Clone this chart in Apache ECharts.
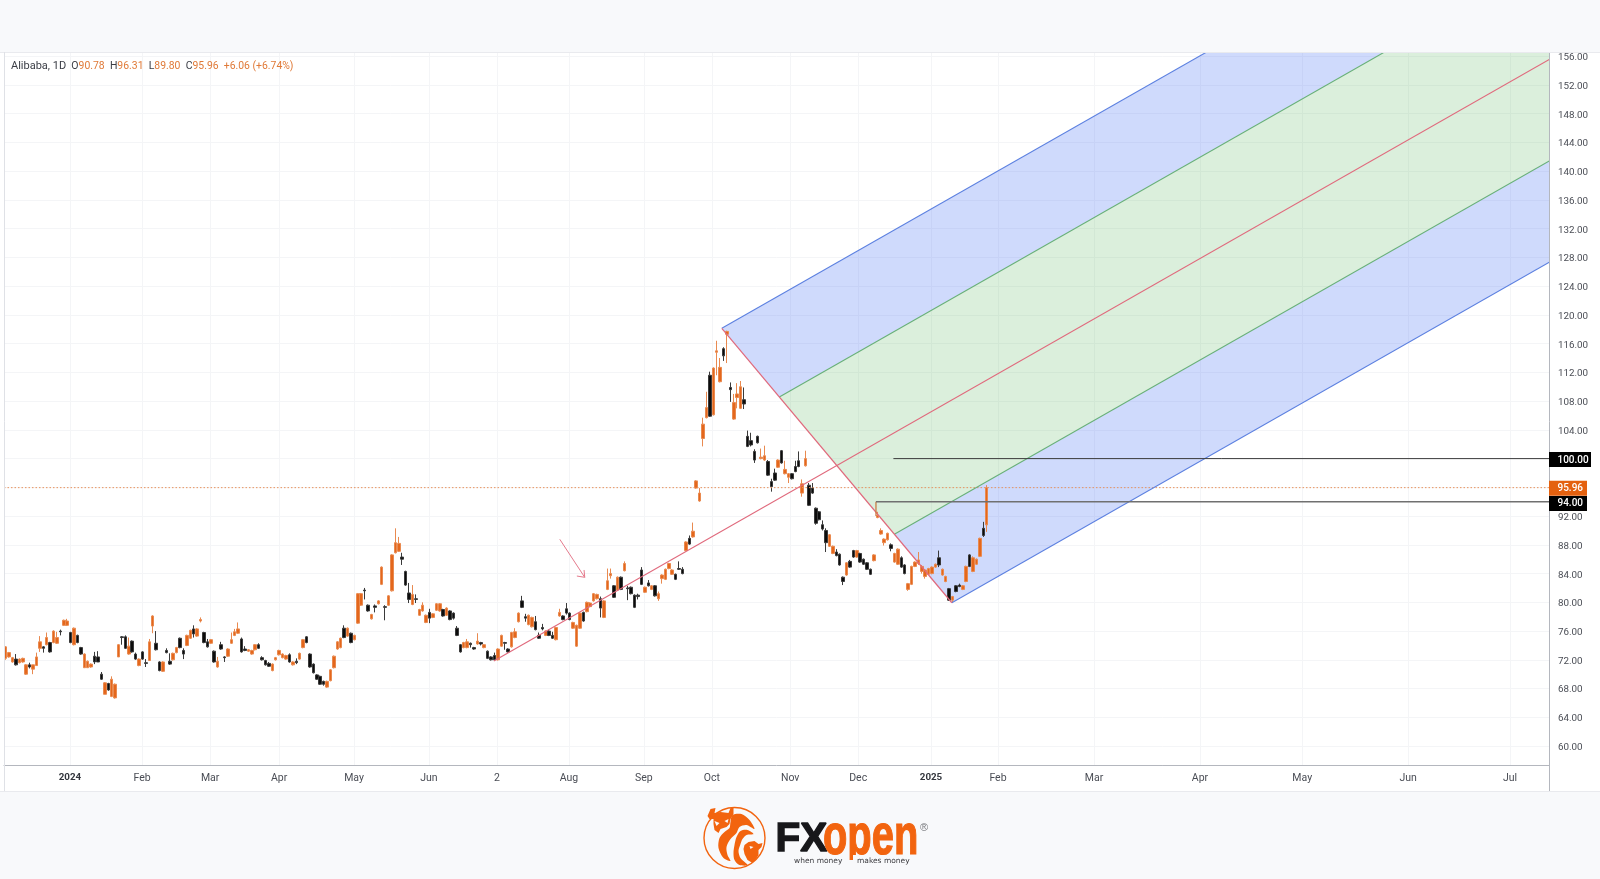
<!DOCTYPE html>
<html><head><meta charset="utf-8">
<style>html,body{margin:0;padding:0;background:#fff}#c{width:1600px;height:879px}</style>
<script src="https://cdn.jsdelivr.net/npm/echarts@6/dist/echarts.min.js"></script>
</head><body><div id="c"></div>
<script>
// each candle: [open, close, low, high]
const candlesA = [
[72.2,73.8,72.0,73.9],[72.4,73.0,72.3,73.1],[71.7,72.3,71.6,72.4],[72.1,71.3,71.2,72.8],[71.6,72.1,71.5,72.2],[71.7,72.2,71.6,72.3],[70.0,71.3,69.9,71.4],[71.3,71.0,70.8,71.6],[70.7,71.3,70.0,71.3],[71.2,72.4,71.2,73.0],
[73.6,74.5,73.1,75.3],[73.8,73.6,73.0,73.9],[74.1,75.1,74.0,75.8],[74.4,73.1,73.0,74.5],[74.4,76.0,74.3,76.1],[74.3,75.1,74.2,75.9],[76.0,75.9,75.4,76.2],[76.8,77.5,76.7,77.6],[76.8,77.4,76.7,77.7],[75.8,74.4,74.3,75.9],
[74.1,76.4,74.0,76.5],[75.4,74.4,74.3,75.5],[73.7,72.8,72.7,73.8],[70.9,72.8,70.9,72.9],[70.9,71.8,70.9,71.9],[71.0,71.4,70.9,71.5],[72.5,71.7,71.4,73.1],[72.4,71.7,71.7,73.2],[70.0,69.3,69.2,70.3],[67.2,68.8,67.2,68.9],
[68.7,67.8,67.7,68.8],[66.9,69.3,66.8,69.7],[66.7,68.6,66.6,68.7],[72.4,74.1,72.4,74.2],[75.2,75.1,74.1,75.3],[75.2,73.6,73.5,75.4],[72.8,73.9,72.7,75.1],[74.6,73.1,73.0,74.7],[72.8,72.1,72.0,73.0],[71.2,72.1,71.1,72.2],
[73.1,72.1,72.0,73.2],[71.6,71.5,71.0,72.1],[71.9,74.5,71.9,74.9],[76.7,78.1,75.7,78.2],[74.3,73.4,73.3,76.0],[71.7,70.5,70.4,71.8],[70.4,71.7,70.3,71.8],[73.3,73.0,72.9,73.6],[71.8,71.4,71.3,72.9],[72.0,72.9,71.9,73.0],
[73.0,73.7,72.9,73.8],[75.0,73.7,73.6,75.1],[73.3,72.8,72.1,73.6],[74.0,75.4,73.9,75.5],[75.0,76.1,74.9,76.2],[76.3,75.6,75.1,76.8],[75.3,76.3,75.2,76.4],[77.4,77.6,77.2,77.9],[75.8,74.4,74.3,75.9],[74.5,73.8,73.7,74.9],
[74.3,74.8,74.2,74.9],[73.2,71.7,71.6,73.3],[71.0,71.8,70.9,72.4],[74.1,73.5,73.4,74.5],[72.4,72.3,71.7,72.5],[72.5,73.5,72.4,73.6],[74.3,74.8,74.2,75.8],[75.4,75.9,75.3,76.3],[75.7,76.3,75.6,77.2],[74.9,73.1,73.0,75.1],
[73.5,73.3,73.2,73.9],[73.2,73.4,73.1,73.5],[72.8,73.3,72.7,73.4],[73.4,74.1,73.3,74.2],[74.1,73.6,73.5,74.3],[72.3,72.0,71.9,72.5],[71.9,71.3,71.2,72.0],[71.5,71.1,71.0,71.7],[70.5,71.4,70.4,71.5],[72.0,72.3,71.9,72.4],
[72.7,73.3,72.6,73.4],[72.3,72.8,72.2,72.9],[72.1,72.6,72.0,72.7],[72.7,71.7,71.6,72.9],[71.3,71.7,71.2,71.8],[71.8,71.6,71.4,72.2],[72.1,72.9,72.0,73.0],[73.7,74.8,73.6,74.9],[75.2,74.4,74.3,75.3],[72.8,71.0,70.9,72.9],
[71.4,70.2,70.1,71.5],[69.9,69.3,69.2,70.0],[69.7,68.6,68.5,69.8],[69.0,68.6,68.4,69.1],[68.2,69.0,68.1,69.1],[69.1,70.6,69.0,70.7],[70.9,72.5,70.8,72.6],[73.5,74.5,73.4,74.6],[73.7,75.0,73.6,75.1],[76.4,75.1,75.0,76.8]
];
const candlesB = [
[75.3,76.4,75.2,76.5],[75.7,74.4,74.3,75.8],[74.8,75.4,74.7,75.5],[77.1,81.2,77.0,81.3],[79.6,81.2,79.5,81.3],[81.7,81.6,80.4,82.0],[79.6,78.8,78.7,79.7],[77.7,78.3,77.6,78.4],[79.5,79.3,78.6,79.7],[79.8,80.2,79.7,80.3],
[82.5,84.9,82.4,85.0],[79.4,79.3,77.5,79.6],[79.6,80.9,79.5,81.0],[81.6,86.6,81.5,86.7],[86.9,88.3,86.8,90.3],[87.1,88.2,87.0,89.1],[86.3,86.0,85.2,86.9],[84.3,82.4,82.3,84.4],[81.3,80.4,79.9,82.7],[79.7,81.1,79.6,82.4],
[80.5,80.4,79.9,81.1],[78.2,79.0,78.1,79.1],[78.8,79.6,78.7,80.0],[77.2,78.2,77.1,78.3],[78.6,77.8,77.1,79.1],[77.9,78.4,77.8,78.5],[78.9,79.8,78.8,79.9],[78.8,79.8,78.7,79.9],[79.0,78.1,78.0,79.1],[78.2,79.2,78.1,79.3],
[78.8,77.6,77.5,78.9],[78.5,77.8,77.6,78.6],[76.4,75.4,75.3,76.7],[74.1,73.1,73.0,74.2],[73.7,74.4,73.6,74.5],[73.7,74.5,73.6,74.9],[74.3,74.1,73.7,74.4],[73.7,73.5,73.4,73.8],[74.2,74.6,74.1,75.7],[74.4,74.2,74.0,74.5],
[73.7,74.1,73.6,74.2],[73.2,72.2,72.1,73.3],[72.4,72.0,71.9,72.5],[72.6,72.0,71.9,73.0],[72.0,73.5,71.9,73.6],[73.9,75.4,73.8,75.5],[74.4,74.3,73.4,74.5],[73.5,73.1,73.0,73.6],[73.8,75.8,73.7,75.9],[75.1,75.9,75.0,76.4],
[77.3,78.5,77.2,78.6],[80.2,79.3,79.2,80.9],[78.0,77.8,77.3,78.4],[76.9,78.2,76.8,78.3],[76.6,77.9,76.5,78.0],[77.3,76.2,76.1,78.1],[75.4,75.0,74.9,75.8],[76.5,76.3,76.1,77.0],[75.4,76.0,75.3,76.1],[76.0,75.4,75.3,76.2],
[75.4,75.0,74.9,75.9],[74.8,76.5,74.7,76.6],[78.1,78.6,78.0,79.1],[78.1,77.6,77.5,78.2],[79.1,78.5,78.3,79.9],[78.5,77.6,77.5,78.6],[76.4,77.2,76.3,77.3],[73.9,76.8,73.8,76.9],[76.4,78.5,76.3,78.6],[78.6,77.4,77.3,78.7],
[78.7,80.0,78.6,80.1],[79.4,79.9,79.3,80.0],[80.2,81.2,80.1,81.3],[80.5,81.1,80.4,81.2],[80.5,79.2,77.9,80.8],[77.9,80.2,77.8,80.3],[81.8,83.0,81.7,84.7],[83.7,84.0,83.3,84.7],[82.3,80.7,80.6,82.4],[81.7,83.5,81.6,83.6],
[83.5,81.8,81.7,83.6],[84.4,85.4,84.3,85.7],[82.0,81.9,80.3,82.3],[82.1,81.2,81.1,82.2],[81.0,79.3,79.2,81.1],[81.0,80.8,80.4,81.2],[84.5,82.5,82.4,84.9],[81.4,82.1,81.3,82.2],[82.7,82.3,82.2,83.1],[81.8,82.3,81.7,82.4],
[82.3,80.9,80.8,82.4],[80.5,81.2,80.2,81.5],[83.3,83.8,82.6,83.9],[83.2,84.6,83.1,84.7],[84.7,85.4,84.6,85.5],[83.9,84.5,83.8,84.6],[83.9,83.2,83.1,84.0],[84.7,84.6,84.5,85.7],[84.6,84.0,83.9,84.9],[87.2,88.4,87.1,88.5],[88.9,88.1,88.0,89.3]
];
const candlesC = [
[89.1,89.9,89.0,91.1],[95.9,96.9,95.8,97.0],[94.1,95.2,94.0,95.9],[102.8,104.8,101.7,105.7],[105.7,107.1,105.6,109.3],[111.6,105.9,105.8,112.1],[106.1,112.6,106.0,112.7],[114.8,115.0,111.6,116.4],[110.7,112.7,110.6,114.0],[115.3,114.3,113.6,115.5],
[117.3,117.7,113.3,117.8],[109.9,109.6,107.9,110.6],[105.5,107.8,105.4,109.0],[108.5,109.0,107.0,110.5],[107.0,110.0,106.9,110.8],[108.2,107.6,106.9,109.9],[103.1,101.7,101.6,103.9],[102.5,101.9,101.7,103.6],[101.0,99.8,99.4,101.3],[103.1,102.2,102.1,103.2],
[100.0,100.2,99.9,101.4],[99.8,100.4,99.7,101.8],[99.6,97.7,97.6,99.8],[96.8,96.1,95.4,97.2],[98.0,97.0,96.9,98.6],[98.8,99.8,98.7,99.9],[101.1,99.4,99.3,101.2],[97.9,98.5,97.8,99.7],[97.4,97.9,96.6,98.0],[97.9,97.2,97.1,98.0],
[98.9,98.2,98.1,99.7],[99.7,98.9,98.8,101.0],[95.2,96.5,94.7,97.1],[99.0,100.0,98.9,101.1],[96.3,93.5,93.4,96.6],[95.9,95.2,95.1,96.6],[93.1,91.0,90.8,93.2],[92.6,91.5,91.4,92.7],[90.8,90.2,90.0,91.4],[90.0,88.3,87.0,90.3],
[87.8,89.4,87.7,89.5],[86.8,87.8,86.7,87.9],[87.0,86.5,86.4,87.4],[86.7,85.2,85.1,86.8],[83.5,82.9,82.4,83.6],[83.8,85.5,83.7,85.6],[85.7,84.9,84.8,85.9],[87.2,86.3,86.2,87.3],[86.3,87.2,86.2,87.3],[86.8,85.6,85.5,86.9],
[86.0,85.3,85.2,86.1],[85.5,84.6,84.5,85.6],[84.6,83.9,83.8,84.7],[85.8,86.6,85.7,86.7],[91.8,92.1,91.7,92.6],[89.5,90.0,89.4,90.3],[88.3,88.8,87.9,88.9],[88.7,89.6,88.6,89.7],[88.0,87.5,87.1,88.2],[85.6,86.8,85.5,86.9],
[85.3,87.4,85.2,87.5],[86.2,84.9,84.8,86.4],[85.2,84.0,83.9,85.3],[81.8,82.6,81.6,82.7],[82.5,85.0,82.4,85.1],[85.0,85.6,84.9,85.7],[85.4,85.9,85.2,87.0],[84.3,85.0,84.0,85.2],[83.6,84.5,83.3,84.6],[83.9,84.7,83.8,84.8],
[84.0,84.9,83.9,85.0],[84.9,85.3,84.8,85.4],[86.2,85.2,84.9,87.2],[83.8,84.6,83.7,84.7],[82.9,83.6,82.8,83.7],[81.9,80.3,80.2,82.0],[80.3,80.8,80.0,80.9],[82.3,81.5,81.4,82.4],[82.4,82.2,82.1,82.6],[81.8,82.3,81.7,82.4],
[82.9,85.0,82.8,85.1],[86.6,85.0,84.9,86.7],[84.3,86.2,84.2,86.4],[85.3,86.0,85.2,86.1],[86.4,88.9,86.3,89.0],[90.3,89.3,89.1,91.2],[90.78,95.96,89.80,96.31]
];
const candles = candlesA.concat(candlesB, candlesC);

const barSlots = 452;                        // trading days + future slots on the time scale
const categories = Array.from({length: barSlots}, (_, i) => String(i));
const monthSlots = [18.8,39.9,59.8,80,101.9,123.8,143.7,164.8,186.7,206.6,229.5,249.4,270.7,290.3,318.4,349.4,379.3,410.3,440.1];
const monthLabels = ['2024','Feb','Mar','Apr','May','Jun','2','Aug','Sep','Oct','Nov','Dec','2025','Feb','Mar','Apr','May','Jun','Jul'];
const priceTicks = [60,64,68,72,76,80,84,88,92,96,100,104,108,112,116,120,124,128,132,136,140,144,148,152,156];
const shownPriceTicks = priceTicks.filter(v => v !== 96 && v !== 100);

// pitchfork anchors: [slot, price]
const forkStart = [142.8, 71.83];
const forkHigh  = [209.5, 118.13];
const forkLow   = [276.8, 79.94];
// level lines
const level100 = [[259.7, 100], [451.5, 100]];
const level94  = [[254.6, 92], [254.6, 94], [451.5, 94]];
const lastPriceLine = [[-0.5, 95.96], [451.5, 95.96]];
const lastPrice = 95.96;
const arrowShaft = [[162.1, 88.77], [169.4, 83.48]];
const arrowHead  = [[167.1, 83.66], [169.4, 83.48], [169.2, 84.5]];

const ORANGE = '#e4671c', BLACK = '#0c0c0c';
const forkMid = [(forkHigh[0]+forkLow[0])/2, (forkHigh[1]+forkLow[1])/2];
const dir = [forkMid[0]-forkStart[0], forkMid[1]-forkStart[1]];
const far = p => [p[0]+dir[0]*4, p[1]+dir[1]*4];
const along = t => [forkHigh[0]+(forkLow[0]-forkHigh[0])*t, forkHigh[1]+(forkLow[1]-forkHigh[1])*t];
const g1 = along(0.25), g2 = along(0.75);

function overlay(z, clip, build) {
  return {type:'custom', xAxisIndex:1, yAxisIndex:0, z, clip, silent:true, data:[0], animation:false,
    renderItem:(params, api) => ({type:'group', children: build(p => api.coord(p))})};
}
const poly = (c, pts, fill) => ({type:'polygon', shape:{points:pts.map(c)}, style:{fill, stroke:null}});
const pline = (c, pts, stroke, lineWidth, lineDash) => ({type:'polyline', shape:{points:pts.map(c)}, style:{fill:null, stroke, lineWidth, lineDash}});

const BLUE_LINE='#5c80e0', GREEN_LINE='#68b078', RED_LINE='#e0697c';
const tags = [
  {price:100, text:'100.00', bg:'#000', w:42, dy:0.9},
  {price:lastPrice, text:'95.96', bg:'#e4610f', w:38, dy:0.7},
  {price:94, text:'94.00', bg:'#000', w:38, dy:1.7}
];
const LOGO='#f2640f', BAND='#f8f9fb';
const logoPoly = (pts, fill, smooth) => ({type:'polygon', silent:true, shape:{points:pts, smooth:smooth||0}, style:{fill:fill||LOGO}});

const chart = echarts.init(document.getElementById('c'), null, {renderer:'canvas'});
const seg = (k, t) => `{${k}|${t}}`;
chart.setOption({
  animation:false,
  backgroundColor:'#ffffff',
  title:{
    left:11, top:61, padding:0,
    text:seg('n','Alibaba, 1D')+seg('s','  ')+seg('d','O')+seg('o','90.78')+seg('s','  ')+seg('d','H')+seg('o','96.31')+seg('s','  ')+seg('d','L')+seg('o','89.80')+seg('s','  ')+seg('d','C')+seg('o','95.96')+seg('s','  ')+seg('o','+6.06 (+6.74%)'),
    textStyle:{fontWeight:'normal', rich:{
      n:{fontFamily:'Roboto',fontSize:11,fontWeight:'normal',color:'#3a3d45'},
      d:{fontFamily:'Roboto',fontSize:10.5,fontWeight:'normal',color:'#3a3d45'},
      o:{fontFamily:'Roboto',fontSize:10.4,fontWeight:'normal',color:'#e07a38'},
      s:{fontFamily:'Roboto',fontSize:10.5,fontWeight:'normal'}
    }}
  },
  grid:{left:4, top:53, width:1545, height:712, containLabel:false},
  xAxis:[
    {type:'category', data:categories, show:false, boundaryGap:true},
    {type:'value', min:-0.5, max:451.5, position:'bottom',
     axisLine:{show:true, onZero:false, lineStyle:{color:'#b4b7be', width:1}},
     axisTick:{show:false, customValues:monthSlots},
     splitLine:{show:true, lineStyle:{color:'#f4f5f7', width:1}},
     axisLabel:{customValues:monthSlots, margin:8, fontFamily:'Roboto', fontSize:10.5, color:'#4a4d55',
       formatter:v => { const l = monthLabels[monthSlots.indexOf(v)]; return l.length>1 && l[0]==='2' ? `{b|${l}}` : l; },
       rich:{b:{fontFamily:'Roboto',fontSize:9.8,fontWeight:'bold',color:'#33363d'}}}}
  ],
  yAxis:{type:'value', position:'right', min:57.36, max:156.45, scale:true,
    axisLine:{show:false}, 
    axisTick:{show:false, customValues:priceTicks},
    splitLine:{show:true, lineStyle:{color:'#f4f5f7', width:1}},
    axisLabel:{customValues:shownPriceTicks, margin:9, fontFamily:'Roboto', fontSize:9.8, color:'#4a4d55', verticalAlign:'top', lineHeight:3, formatter:v => v.toFixed(2)}
  },
  series:[
    overlay(1, true, c => [
      poly(c,[forkHigh,g1,far(g1),far(forkHigh)],'rgba(62,108,245,0.25)'),
      poly(c,[g1,g2,far(g2),far(g1)],'rgba(76,175,80,0.2)'),
      poly(c,[g2,forkLow,far(forkLow),far(g2)],'rgba(62,108,245,0.25)')
    ]),
    {type:'candlestick', xAxisIndex:0, yAxisIndex:0, z:2, barWidth:3, data:candles,
     itemStyle:{color:ORANGE, color0:BLACK, borderColor:'#e98a50', borderColor0:'#3a3a3a', borderWidth:1}},
    overlay(3, true, c => [
      pline(c,lastPriceLine,'#e8935f',1,[1.5,2]),
      pline(c,[forkHigh,far(forkHigh)],BLUE_LINE,1.1),
      pline(c,[forkLow,far(forkLow)],BLUE_LINE,1.1),
      pline(c,[g1,far(g1)],GREEN_LINE,1.1),
      pline(c,[g2,far(g2)],GREEN_LINE,1.1),
      pline(c,[forkStart,far(forkStart)],RED_LINE,1.1),
      pline(c,[forkHigh,forkLow],RED_LINE,1.2),
      pline(c,level100,'#3a3a3a',1),
      pline(c,[level94[0],level94[1]],'#c8763a',1.2),
      pline(c,[level94[1],level94[2]],'#707070',1.3),
      pline(c,arrowShaft,'#e57a8c',1),
      pline(c,arrowHead,'#e57a8c',1)
    ]),
    overlay(5, false, c => tags.flatMap(t => {
      const p = c([451.5, t.price]);
      return [
        {type:'rect', shape:{x:p[0], y:p[1]+t.dy-7.5, width:t.w, height:15}, style:{fill:t.bg}},
        {type:'text', style:{x:p[0]+8.5, y:p[1]+t.dy+0.5, text:t.text, fill:'#fff', font:'500 10px Roboto', verticalAlign:'middle', align:'left'}}
      ];
    }))
  ],
  graphic:[
    {type:'rect', z:-1, silent:true, shape:{x:0,y:0,width:1600,height:52}, style:{fill:BAND}},
    {type:'rect', z:-1, silent:true, shape:{x:0,y:792,width:1600,height:87}, style:{fill:BAND}},
    {type:'line', z:6, silent:true, shape:{x1:0,y1:52.5,x2:1600,y2:52.5}, style:{stroke:'#e9eaee',lineWidth:1}},
    {type:'line', z:6, silent:true, shape:{x1:0,y1:791.5,x2:1600,y2:791.5}, style:{stroke:'#e9eaee',lineWidth:1}},
    {type:'line', z:6, silent:true, shape:{x1:4.5,y1:52,x2:4.5,y2:791}, style:{stroke:'#dfe1e6',lineWidth:1}},
    {type:'line', z:4, silent:true, shape:{x1:1549.5,y1:52,x2:1549.5,y2:791}, style:{stroke:'#b4b7be',lineWidth:1}},
    // logo
    {type:'circle', z:7, silent:true, shape:{cx:734.5,cy:838,r:30.5}, style:{fill:null,stroke:LOGO,lineWidth:1.4}},
    {type:'group', z:7, silent:true, x:734.5, y:838, children:[
      logoPoly([[-27,-22],[-24,-29],[-19,-30],[-20,-25],[-14,-26],[-6,-25],[-4,-30],[-1,-31],[-1,-24],[-4,-19],[-5,-14],[-8,-11],[-14,-9],[-16,-5],[-20,-8],[-21,-14],[-21,-19],[-25,-19]]),
      logoPoly([[-2,-23],[7,-24],[15,-18],[20,-9],[12,-13],[5,-11],[2,-5],[-4,1],[-8,9],[-7,17],[-4,23],[-11,20],[-16,10],[-15,0],[-10,-6],[-5,-10],[-4,-16]],LOGO,0.3),
      logoPoly([[2,-1],[6,-7],[13,-8],[19,-4],[12,-3],[8,1],[6,6],[4,13],[6,20],[13,27],[5,27],[0,22],[-1,15],[0,7]],LOGO,0.3),
      logoPoly([[10,7],[14,4],[20,3],[24,6],[28,5],[27,9],[24,12],[24,17],[21,22],[18,25],[13,22],[10,16],[9,11]]),
      logoPoly([[-20,-17],[-15,-15],[-18,-12]],BAND),
      logoPoly([[-10,-17],[-6,-19],[-7,-15]],BAND),
      logoPoly([[15,8],[19,9],[16,11]],BAND)
    ]},
    {type:'text', z:7, silent:true, x:775.5, y:840, style:{text:'FX', font:'900 40.5px "Liberation Sans"', fill:'#17171a', stroke:'#17171a', lineWidth:1.4, verticalAlign:'middle', align:'left'}},
    {type:'text', z:7, silent:true, x:823, y:838, scaleX:0.7, style:{text:'open', font:'700 57px "Liberation Sans"', fill:LOGO, stroke:LOGO, lineWidth:1.2, verticalAlign:'middle', align:'left'}},
    {type:'rect', z:8, silent:true, shape:{x:835,y:860,width:30,height:14}, style:{fill:BAND}},
    {type:'rect', z:8, silent:true, shape:{x:790,y:855,width:48,height:14}, style:{fill:BAND}},
    {type:'rect', z:8, silent:true, shape:{x:853,y:855,width:70,height:14}, style:{fill:BAND}},
    {type:'text', z:9, silent:true, x:794, y:861, style:{text:'when money', font:'7.5px "DejaVu Sans"', fill:'#3c3c40', verticalAlign:'middle', align:'left'}},
    {type:'text', z:9, silent:true, x:857, y:861, style:{text:'makes money', font:'7.5px "DejaVu Sans"', fill:'#3c3c40', verticalAlign:'middle', align:'left'}},
    {type:'text', z:9, silent:true, x:924, y:828, style:{text:'®', font:'11px "Liberation Sans"', fill:'#77787c', verticalAlign:'middle', align:'center'}}
  ]
});
</script></body></html>
